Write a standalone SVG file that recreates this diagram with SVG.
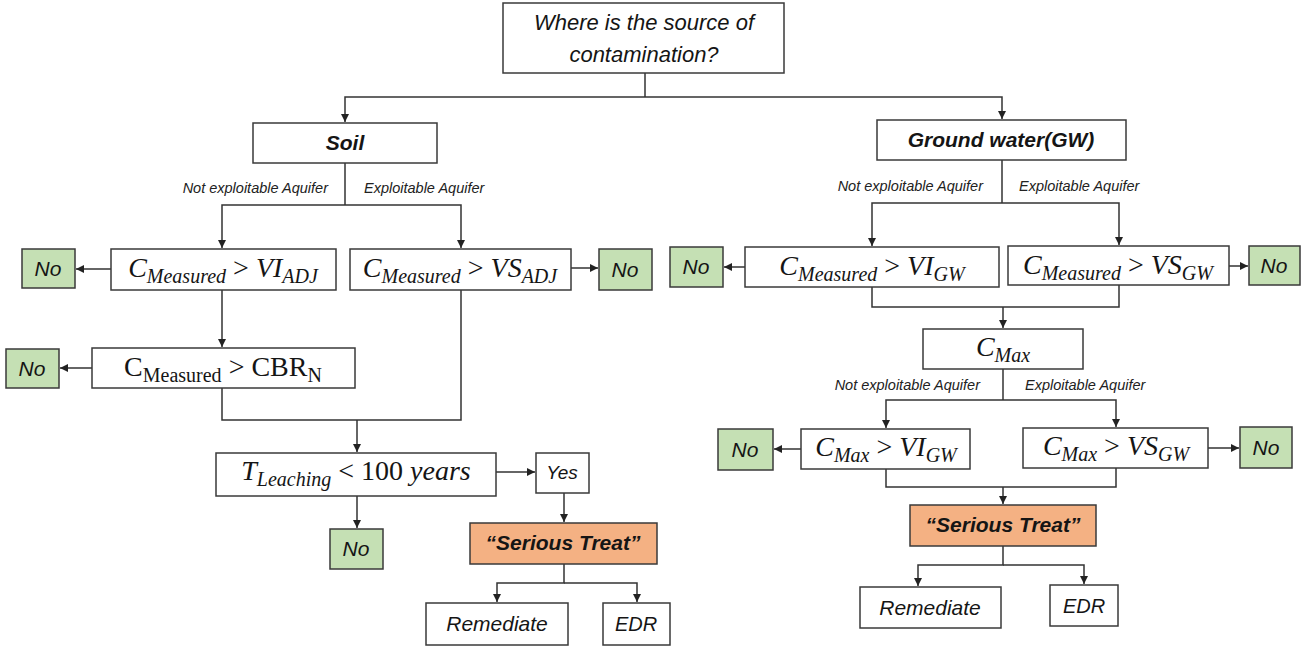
<svg xmlns="http://www.w3.org/2000/svg" width="1304" height="651" viewBox="0 0 1304 651">
  <defs>
    <marker id="arr" markerUnits="userSpaceOnUse" markerWidth="9" markerHeight="9" refX="8" refY="4" orient="auto">
      <path d="M0,0 L8,4 L0,8 z" fill="#222"/>
    </marker>
    <style>
      .box { fill: #ffffff; stroke: #3a3a3a; stroke-width: 1.5; }
      .no { fill: #c5e0b4; stroke: #3a3a3a; stroke-width: 1.5; }
      .warn { fill: #f4b183; stroke: #3a3a3a; stroke-width: 1.5; }
      .t { font-family: "Liberation Sans", Arial, sans-serif; font-style: italic; font-size: 20px; fill: #151515; text-anchor: middle; }
      .b { font-weight: bold; }
      .lbl { font-family: "Liberation Sans", Arial, sans-serif; font-style: italic; font-size: 14.5px; fill: #222; }
      .end { text-anchor: end; }
      .m { font-family: "Liberation Serif", "Times New Roman", serif; font-style: italic; font-size: 28px; fill: #151515; text-anchor: middle; }
      .up { font-style: normal; }
      .sub { font-size: 20px; }
      .conn path { fill: none; stroke: #333333; stroke-width: 1.5; }
    </style>
  </defs>
  <rect width="1304" height="651" fill="#ffffff"/>

  <!-- connectors -->
  <g class="conn">
    <path d="M645,73 V97"/>
    <path d="M645,97 H345 V122" marker-end="url(#arr)"/>
    <path d="M645,97 H1002 V119" marker-end="url(#arr)"/>

    <!-- soil branch -->
    <path d="M345,163 V205"/>
    <path d="M345,205 H222 V248" marker-end="url(#arr)"/>
    <path d="M345,205 H461 V248" marker-end="url(#arr)"/>
    <path d="M111,269 H76" marker-end="url(#arr)"/>
    <path d="M571,268 H598" marker-end="url(#arr)"/>
    <path d="M222,290 V347" marker-end="url(#arr)"/>
    <path d="M92,368 H60" marker-end="url(#arr)"/>
    <path d="M222,388 V420 H461 V290"/>
    <path d="M357,420 V452" marker-end="url(#arr)"/>
    <path d="M496,472 H535" marker-end="url(#arr)"/>
    <path d="M357,496 V528" marker-end="url(#arr)"/>
    <path d="M564,493 V522" marker-end="url(#arr)"/>
    <path d="M564,564 V583 H497 V602" marker-end="url(#arr)"/>
    <path d="M564,583 H637 V602" marker-end="url(#arr)"/>

    <!-- ground water branch -->
    <path d="M1002,159 V203"/>
    <path d="M1002,203 H872 V246" marker-end="url(#arr)"/>
    <path d="M1002,203 H1119 V245" marker-end="url(#arr)"/>
    <path d="M745,267 H724" marker-end="url(#arr)"/>
    <path d="M1229,266 H1248" marker-end="url(#arr)"/>
    <path d="M872,287 V307 H1119 V285"/>
    <path d="M1003,307 V328" marker-end="url(#arr)"/>
    <path d="M1003,369 V400"/>
    <path d="M1003,400 H886 V428" marker-end="url(#arr)"/>
    <path d="M1003,400 H1116 V427" marker-end="url(#arr)"/>
    <path d="M801,449 H774" marker-end="url(#arr)"/>
    <path d="M1208,448 H1239" marker-end="url(#arr)"/>
    <path d="M886,469 V487 H1116 V468"/>
    <path d="M1003,487 V504" marker-end="url(#arr)"/>
    <path d="M1003,546 V565 H918 V586" marker-end="url(#arr)"/>
    <path d="M1003,565 H1084 V584" marker-end="url(#arr)"/>
  </g>

  <!-- branch labels -->
  <g id="labels">
    <text class="lbl end" x="328" y="193">Not exploitable Aquifer</text>
    <text class="lbl" x="364" y="193">Exploitable Aquifer</text>
    <text class="lbl end" x="983" y="191">Not exploitable Aquifer</text>
    <text class="lbl" x="1019" y="191">Exploitable Aquifer</text>
    <text class="lbl end" x="980" y="390">Not exploitable Aquifer</text>
    <text class="lbl" x="1025" y="390">Exploitable Aquifer</text>
  </g>

  <!-- root question -->
  <g id="source">
    <rect class="box" x="503" y="3" width="281" height="70"/>
    <text class="t" x="644" y="30" style="font-size:22px">Where is the source of</text>
    <text class="t" x="644" y="62" style="font-size:22px">contamination?</text>
  </g>

  <!-- soil side -->
  <g id="soil">
    <rect class="box" x="253" y="123" width="184" height="40"/>
    <text class="t b" x="345" y="150" style="font-size:21px">Soil</text>
  </g>
  <g id="soil-vi">
    <rect class="box" x="111" y="249" width="225" height="41"/>
    <text class="m" x="223" y="277">C<tspan class="sub" dy="6">Measured</tspan><tspan class="up" dy="-6"> &gt; </tspan>VI<tspan class="sub" dy="6">ADJ</tspan></text>
  </g>
  <g id="soil-vi-no">
    <rect class="no" x="22" y="249" width="53" height="39"/>
    <text class="t" x="48" y="276" style="font-size:21px">No</text>
  </g>
  <g id="soil-vs">
    <rect class="box" x="350" y="249" width="221" height="41"/>
    <text class="m" x="460" y="277">C<tspan class="sub" dy="6">Measured</tspan><tspan class="up" dy="-6"> &gt; </tspan>VS<tspan class="sub" dy="6">ADJ</tspan></text>
  </g>
  <g id="soil-vs-no">
    <rect class="no" x="599" y="249" width="53" height="41"/>
    <text class="t" x="625" y="277" style="font-size:21px">No</text>
  </g>
  <g id="soil-cbr">
    <rect class="box" x="92" y="348" width="263" height="40"/>
    <text class="m up" x="223" y="376">C<tspan class="sub" dy="6">Measured</tspan><tspan dy="-6"> &gt; CBR</tspan><tspan class="sub" dy="6">N</tspan></text>
  </g>
  <g id="soil-cbr-no">
    <rect class="no" x="6" y="349" width="53" height="39"/>
    <text class="t" x="32" y="376" style="font-size:21px">No</text>
  </g>
  <g id="soil-leaching">
    <rect class="box" x="216" y="453" width="280" height="43"/>
    <text class="m" x="356" y="480">T<tspan class="sub" dy="6">Leaching</tspan><tspan class="up" dy="-6"> &lt; 100 </tspan>years</text>
  </g>
  <g id="soil-yes">
    <rect class="box" x="536" y="453" width="53" height="40"/>
    <text class="t" x="562" y="479" style="font-size:19px">Yes</text>
  </g>
  <g id="soil-leaching-no">
    <rect class="no" x="330" y="529" width="53" height="40"/>
    <text class="t" x="356" y="556" style="font-size:21px">No</text>
  </g>
  <g id="soil-threat">
    <rect class="warn" x="470" y="523" width="187" height="41"/>
    <text class="t b" x="563" y="550" style="font-size:21px">“Serious Treat”</text>
  </g>
  <g id="soil-remediate">
    <rect class="box" x="426" y="603" width="142" height="42"/>
    <text class="t" x="497" y="631" style="font-size:21px">Remediate</text>
  </g>
  <g id="soil-edr">
    <rect class="box" x="603" y="603" width="67" height="42"/>
    <text class="t" x="636" y="631">EDR</text>
  </g>

  <!-- ground water side -->
  <g id="gw">
    <rect class="box" x="877" y="120" width="249" height="40"/>
    <text class="t b" x="1001" y="147" style="font-size:21px">Ground water(GW)</text>
  </g>
  <g id="gw-vi">
    <rect class="box" x="745" y="247" width="254" height="40"/>
    <text class="m" x="872" y="275">C<tspan class="sub" dy="6">Measured</tspan><tspan class="up" dy="-6"> &gt; </tspan>VI<tspan class="sub" dy="6">GW</tspan></text>
  </g>
  <g id="gw-vi-no">
    <rect class="no" x="670" y="247" width="53" height="40"/>
    <text class="t" x="696" y="274" style="font-size:21px">No</text>
  </g>
  <g id="gw-vs">
    <rect class="box" x="1008" y="246" width="221" height="39"/>
    <text class="m" x="1118" y="274">C<tspan class="sub" dy="6">Measured</tspan><tspan class="up" dy="-6"> &gt; </tspan>VS<tspan class="sub" dy="6">GW</tspan></text>
  </g>
  <g id="gw-vs-no">
    <rect class="no" x="1249" y="246" width="51" height="39"/>
    <text class="t" x="1274" y="273" style="font-size:21px">No</text>
  </g>
  <g id="gw-cmax">
    <rect class="box" x="923" y="329" width="160" height="40"/>
    <text class="m" x="1003" y="356">C<tspan class="sub" dy="6">Max</tspan></text>
  </g>
  <g id="gw-cmax-vi">
    <rect class="box" x="801" y="429" width="169" height="40"/>
    <text class="m" x="886" y="456">C<tspan class="sub" dy="6">Max</tspan><tspan class="up" dy="-6"> &gt; </tspan>VI<tspan class="sub" dy="6">GW</tspan></text>
  </g>
  <g id="gw-cmax-vi-no">
    <rect class="no" x="718" y="429" width="55" height="41"/>
    <text class="t" x="745" y="457" style="font-size:21px">No</text>
  </g>
  <g id="gw-cmax-vs">
    <rect class="box" x="1023" y="428" width="185" height="40"/>
    <text class="m" x="1116" y="455">C<tspan class="sub" dy="6">Max</tspan><tspan class="up" dy="-6"> &gt; </tspan>VS<tspan class="sub" dy="6">GW</tspan></text>
  </g>
  <g id="gw-cmax-vs-no">
    <rect class="no" x="1240" y="427" width="52" height="41"/>
    <text class="t" x="1266" y="455" style="font-size:21px">No</text>
  </g>
  <g id="gw-threat">
    <rect class="warn" x="910" y="505" width="186" height="41"/>
    <text class="t b" x="1003" y="532" style="font-size:21px">“Serious Treat”</text>
  </g>
  <g id="gw-remediate">
    <rect class="box" x="860" y="587" width="141" height="41"/>
    <text class="t" x="930" y="615" style="font-size:21px">Remediate</text>
  </g>
  <g id="gw-edr">
    <rect class="box" x="1050" y="585" width="68" height="41"/>
    <text class="t" x="1084" y="613">EDR</text>
  </g>
</svg>
